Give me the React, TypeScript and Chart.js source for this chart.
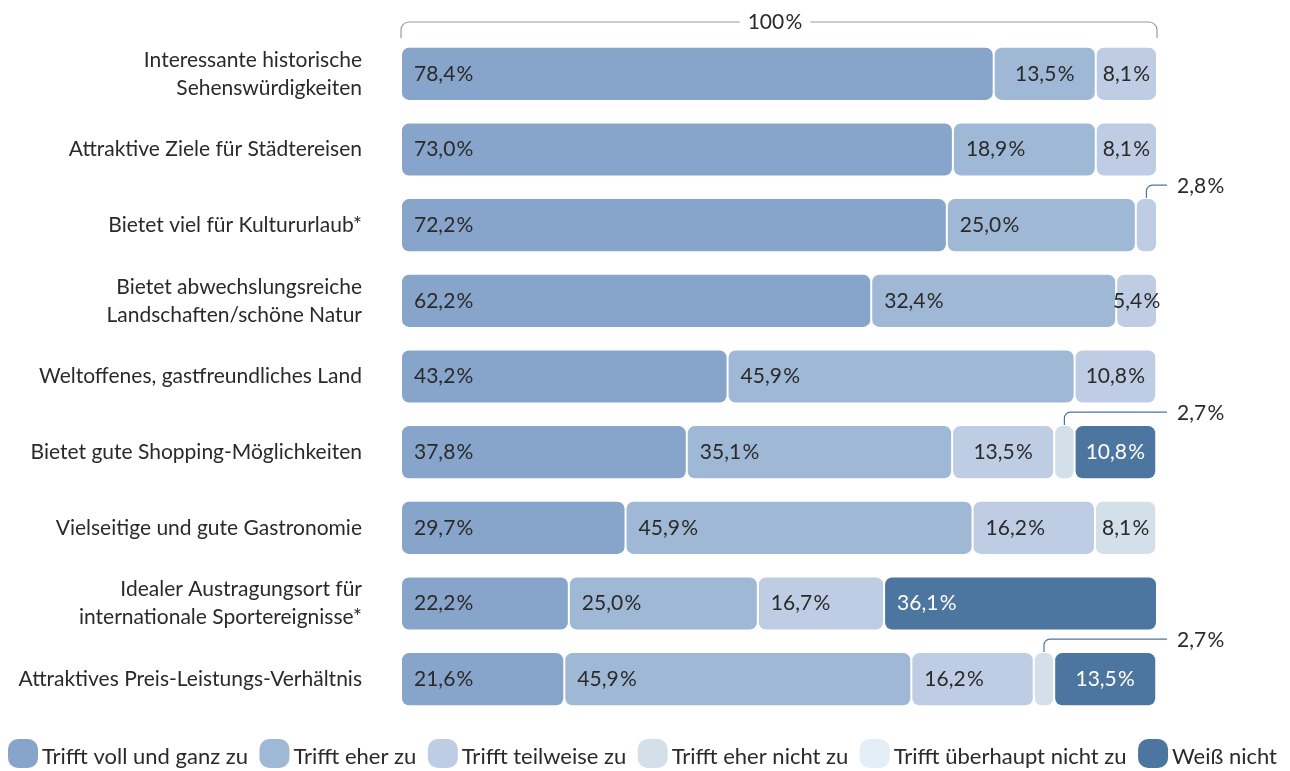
import React, { useEffect, useRef } from 'react';
import { Chart, registerables } from 'chart.js';

Chart.register(...registerables);

const categories: (string | string[])[] = [
  ['Interessante historische', 'Sehenswürdigkeiten'],
  'Attraktive Ziele für Städtereisen',
  'Bietet viel für Kultururlaub*',
  ['Bietet abwechslungsreiche', 'Landschaften/schöne Natur'],
  'Weltoffenes, gastfreundliches Land',
  'Bietet gute Shopping-Möglichkeiten',
  'Vielseitige und gute Gastronomie',
  ['Idealer Austragungsort für', 'internationale Sportereignisse*'],
  'Attraktives Preis-Leistungs-Verhältnis',
];

const seriesNames = [
  'Trifft voll und ganz zu',
  'Trifft eher zu',
  'Trifft teilweise zu',
  'Trifft eher nicht zu',
  'Trifft überhaupt nicht zu',
  'Weiß nicht',
];

const vollUndGanz = [78.4, 73.0, 72.2, 62.2, 43.2, 37.8, 29.7, 22.2, 21.6];
const eher = [13.5, 18.9, 25.0, 32.4, 45.9, 35.1, 45.9, 25.0, 45.9];
const teilweise = [8.1, 8.1, 2.8, 5.4, 10.8, 13.5, 16.2, 16.7, 16.2];
const eherNicht = [null, null, null, null, null, 2.7, 8.1, null, 2.7];
const ueberhauptNicht = [null, null, null, null, null, null, null, null, null];
const weissNicht = [null, null, null, null, null, 10.8, null, 36.1, 13.5];

const seriesValues = [vollUndGanz, eher, teilweise, eherNicht, ueberhauptNicht, weissNicht];
const seriesColors = ['#87a5cb', '#9fb8d5', '#bfcde4', '#d3dfe9', '#e3eef6', '#4c76a0'];

const totalLabel = '100\u200A%';

const FONT = 'Lato, "Noto Sans", sans-serif';
const TEXT = '#2a2a2a';

const fmt = (v: number) => v.toFixed(1).replace('.', ',') + '\u200A%';

const labelPlugin = {
  id: 'segLabels',
  afterDatasetsDraw(chart: any) {
    const ctx = chart.ctx;
    const area = chart.chartArea;
    ctx.save();
    ctx.font = `21px ${FONT}`;
    ctx.textBaseline = 'middle';
    chart.data.datasets.forEach((ds: any, di: number) => {
      const meta = chart.getDatasetMeta(di);
      meta.data.forEach((el: any, i: number) => {
        const v = ds.data[i];
        if (v == null) return;
        const x0 = Math.min(el.x, el.base);
        const x1 = Math.max(el.x, el.base);
        const w = x1 - x0;
        const txt = fmt(v);
        if (v < 4) {
          const cx = (x0 + x1) / 2;
          const top = el.y - el.height / 2;
          const ly = top - 13;
          const r = 6;
          ctx.strokeStyle = '#4c76a0';
          ctx.lineWidth = 1.2;
          ctx.beginPath();
          ctx.moveTo(cx, top);
          ctx.lineTo(cx, ly + r);
          ctx.arcTo(cx, ly, cx + r, ly, r);
          ctx.lineTo(area.right + 10, ly);
          ctx.stroke();
          ctx.fillStyle = TEXT;
          ctx.textAlign = 'left';
          ctx.fillText(txt, area.right + 20, ly + 1);
          return;
        }
        ctx.fillStyle = di === 5 ? '#ffffff' : TEXT;
        if (w < 110) {
          ctx.textAlign = 'center';
          ctx.fillText(txt, (x0 + x1) / 2, el.y);
        } else {
          ctx.textAlign = 'left';
          ctx.fillText(txt, x0 + 13, el.y);
        }
      });
    });
    ctx.restore();
  },
};

const decorPlugin = {
  id: 'decor',
  afterDraw(chart: any) {
    const ctx = chart.ctx;
    const area = chart.chartArea;
    ctx.save();
    const y = 22;
    const r = 8;
    const mid = (area.left + area.right) / 2 - 4;
    ctx.font = `21px ${FONT}`;
    const tw = ctx.measureText(totalLabel).width;
    ctx.strokeStyle = '#9a9a9a';
    ctx.lineWidth = 1.2;
    ctx.beginPath();
    ctx.moveTo(area.left, 38);
    ctx.lineTo(area.left, y + r);
    ctx.arcTo(area.left, y, area.left + r, y, r);
    ctx.lineTo(mid - tw / 2 - 8, y);
    ctx.moveTo(mid + tw / 2 + 8, y);
    ctx.lineTo(area.right - r, y);
    ctx.arcTo(area.right, y, area.right, y + r, r);
    ctx.lineTo(area.right, 38);
    ctx.stroke();
    ctx.fillStyle = TEXT;
    ctx.textAlign = 'center';
    ctx.textBaseline = 'middle';
    ctx.fillText(totalLabel, mid, y);

    // legend
    ctx.font = `22px ${FONT}`;
    let x = 8;
    const by = 739;
    const bw = 30;
    const bh = 29;
    ctx.textAlign = 'left';
    ctx.textBaseline = 'alphabetic';
    seriesNames.forEach((name, i) => {
      ctx.fillStyle = seriesColors[i];
      ctx.beginPath();
      (ctx as any).roundRect(x, by, bw, bh, 10);
      ctx.fill();
      x += bw + 4;
      ctx.fillStyle = TEXT;
      ctx.fillText(name, x, 764);
      x += ctx.measureText(name).width + 11.5;
    });
    ctx.restore();
  },
};

export default function App() {
  const ref = useRef<HTMLCanvasElement>(null);
  useEffect(() => {
    if (!ref.current) return;
    const chart = new Chart(ref.current, {
      type: 'bar',
      data: {
        labels: categories,
        datasets: seriesNames.map((name, i) => ({
          label: name,
          data: seriesValues[i] as any,
          backgroundColor: seriesColors[i],
          borderColor: '#ffffff',
          borderWidth: 1,
          borderSkipped: false,
          borderRadius: { topLeft: 8, topRight: 8, bottomLeft: 8, bottomRight: 8 },
          barPercentage: 0.715,
          categoryPercentage: 1,
        })),
      },
      options: {
        indexAxis: 'y',
        responsive: false,
        animation: false,
        devicePixelRatio: 1,
        layout: { padding: { top: 36, bottom: 54, left: 0, right: 133 } },
        plugins: { legend: { display: false }, tooltip: { enabled: false } },
        scales: {
          x: { display: false, stacked: true, min: 0, max: 100 },
          y: {
            stacked: true,
            grid: { display: false, drawTicks: false },
            border: { display: false },
            afterFit: (s: any) => {
              s.width = 401;
              s.paddingTop = 0;
              s.paddingBottom = 0;
            },
            ticks: {
              padding: 39,
              color: TEXT,
              font: { family: FONT, size: 21, lineHeight: 1.33 },
            },
          },
        },
      },
      plugins: [labelPlugin, decorPlugin],
    });
    return () => chart.destroy();
  }, []);
  return (
    <div style={{ position: 'fixed', left: 0, top: 0, width: 1290, height: 771, background: '#fff' }}>
      <canvas ref={ref} width={1290} height={771} style={{ width: 1290, height: 771 }} />
    </div>
  );
}
